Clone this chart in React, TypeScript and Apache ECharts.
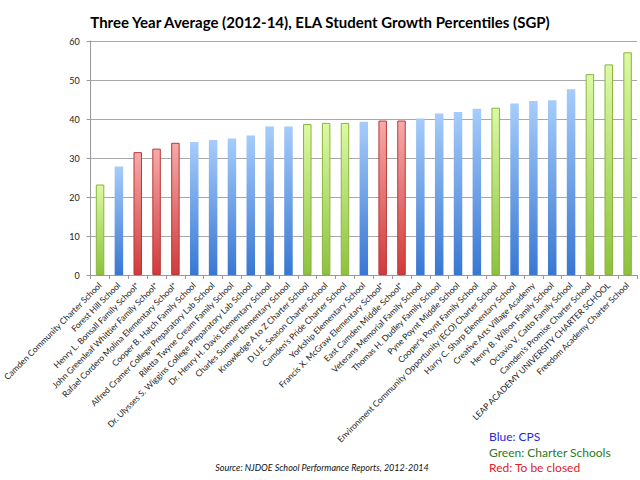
import React, { useEffect, useRef } from "react";
import * as echarts from "echarts";

const schools = [
  "Camden Community Charter School",
  "Forest Hill School",
  "Henry L. Bonsall Family School*",
  "John Greenleaf Whittier Family School*",
  "Rafael Cordero Molina Elementary School*",
  "Cooper B. Hatch Family School",
  "Alfred Cramer College Preparatory Lab School",
  "Riletta Twyne Cream Family School",
  "Dr. Ulysses S. Wiggins College Preparatory Lab School",
  "Dr. Henry H. Davis Elementary School",
  "Charles Sumner Elementary School",
  "Knowledge A to Z Charter School",
  "D.U.E. Season Charter School",
  "Camden's Pride Charter School",
  "Yorkship Elementary School",
  "Francis X. McGraw Elementary School*",
  "East Camden Middle School*",
  "Veterans Memorial Family School",
  "Thomas H. Dudley Family School",
  "Pyne Poynt Middle School",
  "Cooper's Poynt Family School",
  "Environment Community Opportunity (ECO) Charter School",
  "Harry C. Sharp Elementary School",
  "Creative Arts Village Academy",
  "Henry B. Wilson Family School",
  "Octavio V. Catto Family School",
  "Camden's Promise Charter School",
  "LEAP ACADEMY UNIVERSITY CHARTER SCHOOL",
  "Freedom Academy Charter School",
];

const sgp = [
  23.2, 27.8, 31.5, 32.4, 33.9, 34.1, 34.6, 35.0, 35.8, 38.1, 38.1, 38.7, 39.0,
  39.0, 39.3, 39.6, 39.6, 40.1, 41.4, 41.8, 42.6, 42.9, 44.0, 44.6, 44.8, 47.6,
  51.5, 54.0, 57.1,
];

// g = charter (green), b = CPS (blue), r = to be closed (red)
const kinds = [
  "g", "b", "r", "r", "r", "b", "b", "b", "b", "b", "b", "g", "g", "g", "b",
  "r", "r", "b", "b", "b", "b", "g", "b", "b", "b", "b", "g", "g", "g",
];

const yTicks = { min: 0, max: 60, interval: 10 };

const grad = (top: string, bottom: string) =>
  new echarts.graphic.LinearGradient(0, 0, 0, 1, [
    { offset: 0, color: top },
    { offset: 1, color: bottom },
  ]);

const styles: Record<string, any> = {
  g: { color: () => grad("#dcf9a4", "#8cc23c"), border: "#8ab43e", bw: 1 },
  b: { color: () => grad("#a6ccfa", "#3877d2"), border: "#a6ccfa", bw: 0 },
  r: { color: () => grad("#f8a9a9", "#d23a3a"), border: "#b53a3a", bw: 1 },
};

const FONT = "Lato";

export default function App() {
  const ref = useRef<HTMLDivElement>(null);
  useEffect(() => {
    if (!ref.current) return;
    const chart = echarts.init(ref.current, null, { renderer: "svg" });
    const data = sgp.map((v, i) => {
      const s = styles[kinds[i]];
      return {
        value: v,
        itemStyle: { color: s.color(), borderColor: s.border, borderWidth: s.bw },
      };
    });
    chart.setOption({
      animation: false,
      textStyle: { fontFamily: FONT },
      title: {
        text: "Three Year Average (2012-14), ELA Student Growth Percentiles (SGP)",
        left: "center",
        top: 9,
        textStyle: { fontFamily: FONT, fontSize: 15, fontWeight: "bold", color: "#000" },
      },
      grid: { left: 85, right: 3, top: 41, bottom: 205, containLabel: false },
      xAxis: {
        type: "category",
        data: schools,
        axisLine: { show: true, lineStyle: { color: "#999", width: 1 } },
        axisTick: { show: true, interval: 0, length: 4, lineStyle: { color: "#999" } },
        axisLabel: {
          interval: 0,
          rotate: 45,
          fontSize: 8.5,
          margin: 9,
          color: "#222",
          fontFamily: FONT,
        },
      },
      yAxis: {
        type: "value",
        min: yTicks.min,
        max: yTicks.max,
        interval: yTicks.interval,
        axisLine: { show: true, lineStyle: { color: "#999" } },
        axisTick: { show: true, length: 4, lineStyle: { color: "#999" } },
        axisLabel: { fontSize: 9, color: "#222", margin: 11, fontFamily: FONT },
        splitLine: { show: true, lineStyle: { color: "#a8a8a8", width: 1 } },
      },
      series: [
        {
          type: "bar",
          data,
          barWidth: 8.5,
        },
      ],
      graphic: [
        {
          type: "text",
          x: 322,
          y: 467,
          style: {
            text: "Source: NJDOE School Performance Reports, 2012-2014",
            font: `italic 9px ${FONT}`,
            fill: "#111",
            align: "center",
            verticalAlign: "middle",
          },
        },
        {
          type: "text",
          x: 489,
          y: 436,
          style: { text: "Blue: CPS", font: `12px ${FONT}`, fill: "#2828d8", verticalAlign: "middle" },
        },
        {
          type: "text",
          x: 489,
          y: 452,
          style: { text: "Green: Charter Schools", font: `12px ${FONT}`, fill: "#2a7a22", verticalAlign: "middle" },
        },
        {
          type: "text",
          x: 489,
          y: 467,
          style: { text: "Red: To be closed", font: `12px ${FONT}`, fill: "#e02028", verticalAlign: "middle" },
        },
      ],
    });
    return () => chart.dispose();
  }, []);
  return (
    <div
      ref={ref}
      style={{ position: "fixed", left: 0, top: 0, width: 640, height: 480, background: "#fff" }}
    />
  );
}
